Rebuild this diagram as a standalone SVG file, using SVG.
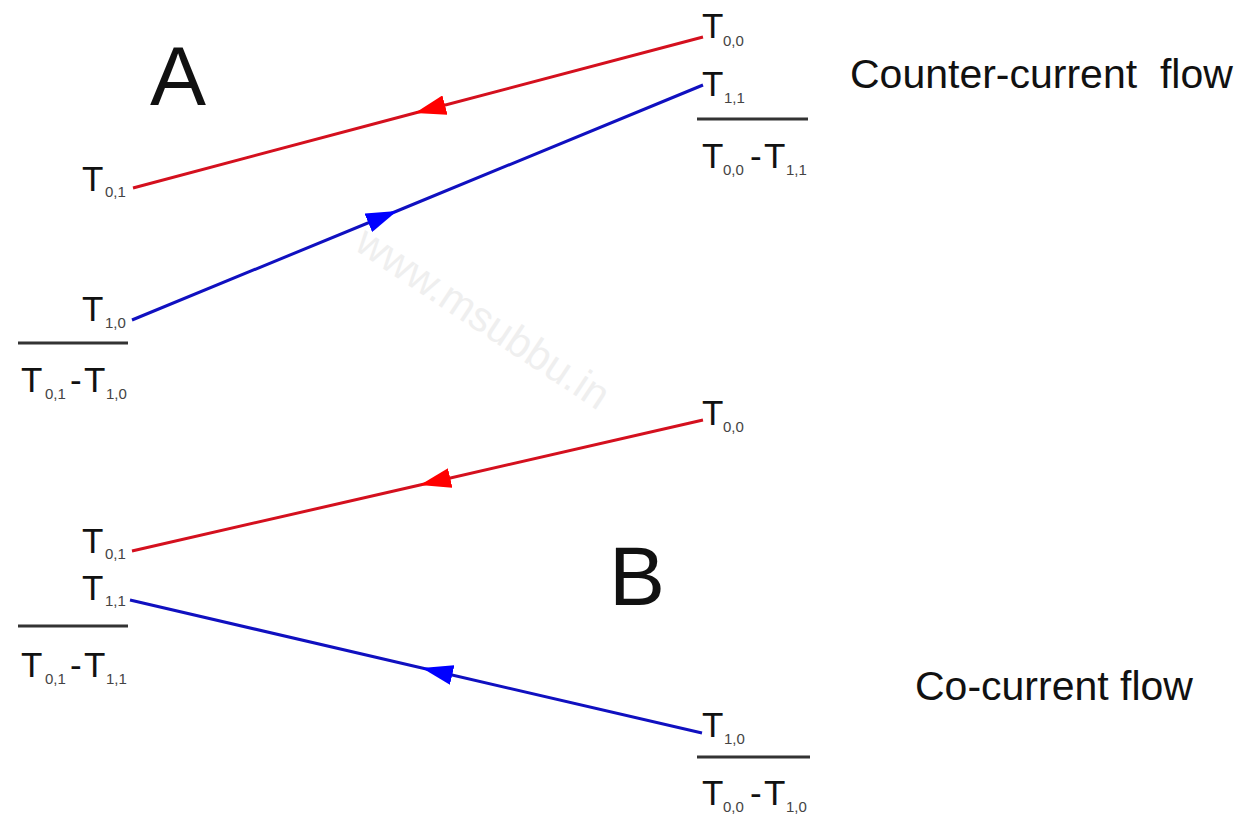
<svg xmlns="http://www.w3.org/2000/svg" width="1242" height="818" viewBox="0 0 1242 818">
<style>
text{font-family:"Liberation Sans",Arial,sans-serif;fill:#111}
.t{font-size:35px}
.s{font-size:15px;fill:#444}
.big{font-size:84px}
.cap{font-size:41px}
.wm{font-size:42px;fill:#efefef}
.fr{stroke:#333;stroke-width:3}
.red{stroke:#d4101e;stroke-width:3;fill:none}
.blue{stroke:#1010c0;stroke-width:3;fill:none}
</style>
<defs>
<marker id="ar" markerUnits="userSpaceOnUse" markerWidth="32" markerHeight="20" viewBox="0 0 32 20" refX="31" refY="10" orient="auto">
<path d="M31,10 L0,0 L0,20 Z" fill="#ff0000"/>
</marker>
<marker id="ab" markerUnits="userSpaceOnUse" markerWidth="32" markerHeight="20" viewBox="0 0 32 20" refX="31" refY="10" orient="auto">
<path d="M31,10 L0,0 L0,20 Z" fill="#0000ff"/>
</marker>
</defs>
<rect width="1242" height="818" fill="#fff"/>
<text class="wm" transform="translate(483,318) rotate(33.5)" text-anchor="middle" y="14">www.msubbu.in</text>
<g id="titles">
<text class="big" x="150" y="105">A</text>
<text class="big" x="609" y="605">B</text>
<text class="cap" x="850" y="88" xml:space="preserve">Counter-current  flow</text>
<text class="cap" x="915" y="700">Co-current flow</text>
</g>
<g id="connectors">
<polyline class="red" points="703,37 415,113 133,188" marker-mid="url(#ar)"/>
<polyline class="blue" points="132,320 397,211 703,85" marker-mid="url(#ab)"/>
<polyline class="red" points="703,420 420,485 132,551" marker-mid="url(#ar)"/>
<polyline class="blue" points="702,733 422,668 130,600" marker-mid="url(#ab)"/>
</g>
<g id="a-t00"><text class="t" x="702" y="38">T</text><text class="s" x="723" y="46">0,0</text></g>
<g id="a-t11"><text class="t" x="702" y="96">T</text><text class="s" x="724" y="103">1,1</text></g>
<g id="a-frac-right">
<line class="fr" x1="697" y1="119" x2="808" y2="119"/>
<text class="t" x="702" y="168">T</text><text class="s" x="723" y="175">0,0</text>
<text class="t" x="750" y="168">-</text>
<text class="t" x="764" y="168">T</text><text class="s" x="786" y="175">1,1</text>
</g>
<g id="a-t01"><text class="t" x="82" y="191">T</text><text class="s" x="105" y="197">0,1</text></g>
<g id="a-t10"><text class="t" x="82" y="321">T</text><text class="s" x="105" y="328">1,0</text></g>
<g id="a-frac-left">
<line class="fr" x1="18" y1="343" x2="128" y2="343"/>
<text class="t" x="21" y="392">T</text><text class="s" x="45" y="399">0,1</text>
<text class="t" x="70" y="392">-</text>
<text class="t" x="84" y="392">T</text><text class="s" x="106" y="399">1,0</text>
</g>
<g id="b-t00"><text class="t" x="702" y="425">T</text><text class="s" x="723" y="432">0,0</text></g>
<g id="b-t01"><text class="t" x="82" y="553">T</text><text class="s" x="105" y="559">0,1</text></g>
<g id="b-t11"><text class="t" x="82" y="600">T</text><text class="s" x="105" y="606">1,1</text></g>
<g id="b-frac-left">
<line class="fr" x1="18" y1="626" x2="128" y2="626"/>
<text class="t" x="21" y="677">T</text><text class="s" x="45" y="684">0,1</text>
<text class="t" x="70" y="677">-</text>
<text class="t" x="84" y="677">T</text><text class="s" x="106" y="684">1,1</text>
</g>
<g id="b-t10"><text class="t" x="702" y="737">T</text><text class="s" x="724" y="744">1,0</text></g>
<g id="b-frac-right">
<line class="fr" x1="697" y1="757" x2="810" y2="757"/>
<text class="t" x="702" y="805">T</text><text class="s" x="723" y="812">0,0</text>
<text class="t" x="750" y="805">-</text>
<text class="t" x="764" y="805">T</text><text class="s" x="786" y="812">1,0</text>
</g>
</svg>
